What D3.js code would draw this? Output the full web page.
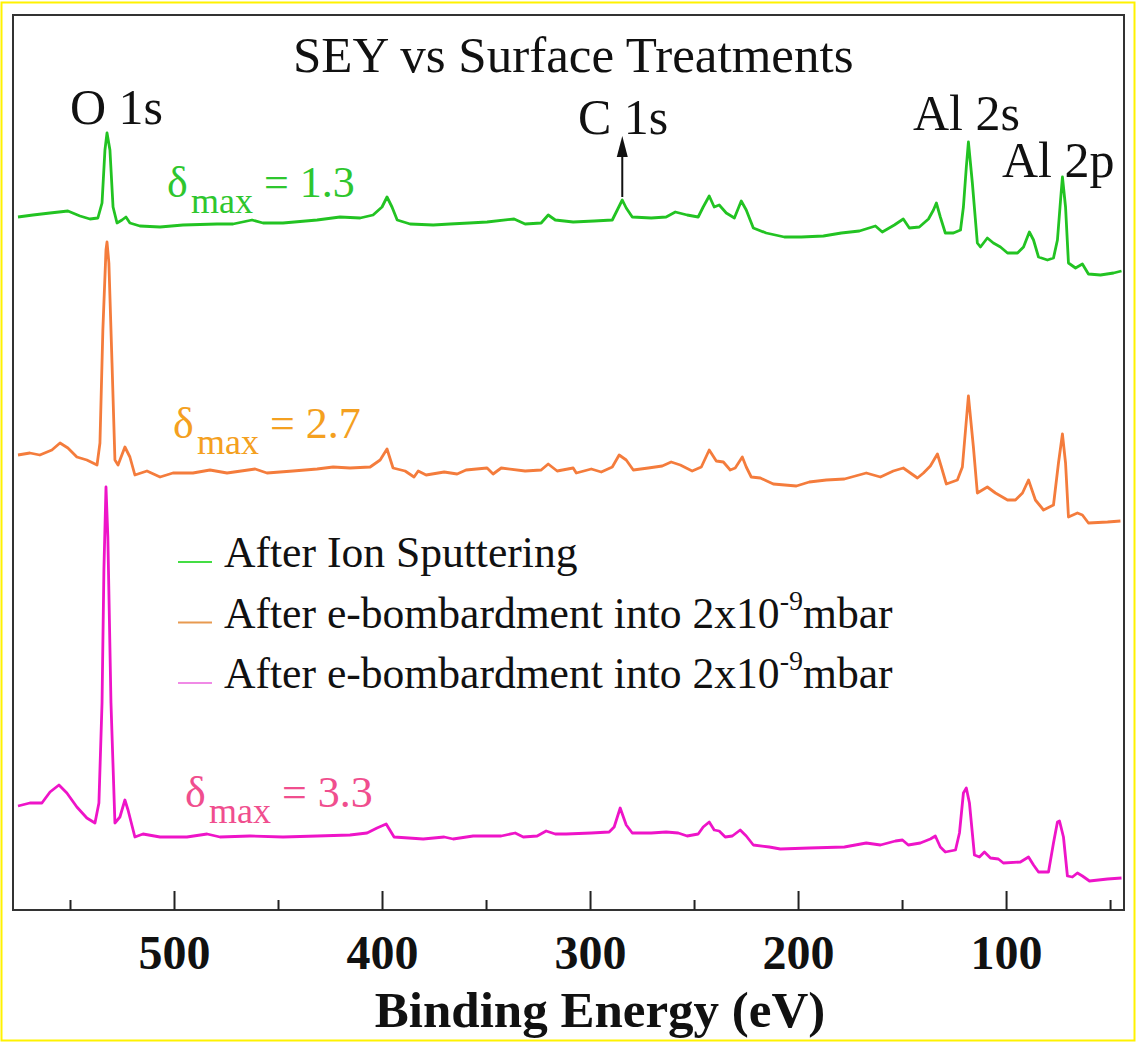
<!DOCTYPE html>
<html>
<head>
<meta charset="utf-8">
<script src="https://cdn.jsdelivr.net/npm/d3@7"></script>
<style>
  body { margin: 0; background: #fff; }
  svg { display: block; font-family: "Liberation Serif", "Times New Roman", serif; }
</style>
</head>
<body>
<div id="chart"></div>
<script>
// spectra: [binding energy (eV), intensity (a.u., stacked with offsets)]
const ionSputtering = [
  [575.0, 693], [567.8, 695], [559.6, 697], [551.0, 699], [545.2, 694], [540.4, 691], [536.6, 692],
  [534.6, 707], [533.2, 760], [532.2, 777], [530.8, 760], [529.3, 703], [527.4, 687], [525.0, 690],
  [523.1, 693], [521.2, 687], [516.4, 684], [506.7, 683], [495.7, 685], [479.3, 686], [471.6, 686],
  [462.5, 690], [457.2, 687], [447.6, 687], [431.2, 690], [420.2, 693], [410.5, 692], [404.3, 695],
  [400.0, 703], [397.6, 713], [395.2, 703], [392.7, 690], [386.5, 686], [375.4, 685], [367.3, 686],
  [358.1, 687], [349.5, 688], [336.5, 691], [331.2, 686], [323.5, 687], [320.1, 695], [316.7, 690],
  [308.1, 688], [298.0, 689], [289.3, 690], [286.9, 700], [284.5, 710], [282.6, 702], [279.7, 693],
  [270.6, 692], [263.4, 693], [259.0, 698], [253.3, 695], [248.0, 693], [245.6, 703], [242.7, 714],
  [240.3, 703], [237.9, 705], [234.5, 697], [230.6, 692], [227.3, 709], [224.9, 700], [221.5, 682],
  [215.3, 677], [206.6, 673], [198.4, 673], [187.8, 674], [179.2, 677], [170.5, 679], [162.8, 684],
  [159.5, 678], [153.7, 685], [149.4, 691], [146.5, 682], [141.7, 683], [137.3, 691], [134.9, 700],
  [133.5, 707], [131.6, 693], [129.2, 677], [125.3, 677], [121.9, 680], [120.5, 703], [119.1, 743],
  [118.1, 768], [116.2, 727], [113.8, 667], [112.3, 663], [109.0, 672], [106.1, 667], [102.7, 663],
  [99.3, 657], [94.5, 657], [91.6, 663], [88.8, 678], [86.8, 670], [84.4, 653], [80.1, 650],
  [77.2, 652], [75.3, 670], [73.8, 710], [72.9, 733], [71.4, 703], [70.0, 647], [66.6, 642],
  [63.3, 646], [60.4, 636], [54.6, 635], [48.3, 637], [44.5, 639]
];

const bombardmentA = [
  [575.0, 455], [569.3, 457], [564.5, 455], [558.7, 460], [554.8, 467], [551.0, 462], [546.7, 453],
  [541.9, 450], [537.0, 445], [535.6, 467], [534.2, 580], [532.7, 660], [532.2, 668], [531.3, 647],
  [529.8, 547], [528.4, 450], [526.9, 445], [523.6, 463], [521.2, 453], [518.8, 435], [513.0, 439],
  [506.7, 433], [500.5, 437], [490.9, 437], [482.7, 440], [474.5, 437], [461.0, 441], [455.3, 437],
  [442.8, 439], [431.2, 441], [423.5, 443], [415.4, 442], [405.7, 443], [400.9, 450], [397.6, 461],
  [394.7, 442], [388.9, 439], [384.6, 433], [382.6, 439], [378.8, 435], [370.1, 438], [363.9, 436],
  [359.6, 440], [349.5, 442], [346.6, 436], [342.7, 442], [331.2, 439], [323.5, 440], [320.1, 446],
  [315.8, 439], [308.1, 442], [306.6, 437], [299.4, 441], [294.6, 438], [289.3, 443], [286.0, 455],
  [282.6, 450], [279.2, 440], [272.0, 442], [265.3, 444], [261.0, 448], [256.6, 445], [250.9, 439],
  [246.5, 443], [242.7, 460], [239.3, 449], [235.9, 448], [232.6, 440], [230.2, 442], [226.8, 453],
  [224.9, 443], [222.5, 433], [218.1, 432], [211.9, 426], [200.8, 424], [194.6, 428], [186.4, 430],
  [177.7, 431], [167.2, 437], [160.4, 433], [154.2, 439], [149.4, 442], [142.6, 432], [139.7, 437],
  [136.4, 444], [133.0, 456], [131.1, 443], [128.7, 426], [123.4, 430], [121.0, 443], [118.1, 514],
  [115.7, 463], [113.8, 417], [109.0, 423], [105.1, 417], [99.3, 410], [95.5, 410], [92.1, 417],
  [89.2, 430], [85.9, 410], [82.0, 400], [77.2, 405], [74.8, 447], [72.9, 476], [71.4, 447],
  [70.0, 393], [65.7, 397], [63.3, 395], [60.4, 387], [51.2, 388], [45.0, 389]
];

const bombardmentB = [
  [575.0, 104], [569.3, 107], [563.5, 107], [559.6, 118], [555.3, 125], [551.5, 117], [546.7, 103],
  [541.9, 92], [538.0, 87], [536.1, 107], [534.6, 207], [533.7, 340], [532.7, 423], [531.8, 373],
  [530.3, 207], [528.4, 87], [526.0, 93], [523.6, 110], [522.1, 100], [518.8, 73], [514.9, 76],
  [506.7, 73], [493.8, 73], [484.1, 76], [477.9, 73], [463.5, 74], [447.6, 73], [431.2, 74],
  [415.4, 75], [407.2, 77], [402.4, 82], [398.0, 86], [394.2, 73], [380.2, 71], [370.1, 73],
  [365.8, 71], [356.2, 74], [342.7, 74], [336.0, 77], [332.1, 73], [325.4, 74], [321.1, 79],
  [316.7, 76], [311.5, 76], [299.4, 77], [290.8, 78], [288.4, 83], [285.5, 102], [282.6, 85],
  [279.7, 77], [270.6, 77], [263.4, 78], [257.6, 77], [253.3, 74], [248.0, 76], [245.6, 83],
  [242.7, 88], [240.3, 80], [237.9, 79], [235.0, 73], [231.6, 74], [227.8, 80], [224.9, 74],
  [221.5, 65], [213.8, 63], [208.5, 61], [194.6, 62], [177.7, 63], [167.2, 67], [160.4, 65],
  [153.2, 69], [149.8, 70], [147.0, 65], [141.2, 67], [136.4, 71], [134.0, 74], [131.6, 63],
  [129.2, 58], [124.3, 60], [122.4, 77], [120.5, 117], [119.1, 122], [117.6, 107], [115.2, 55],
  [112.8, 53], [110.4, 58], [107.5, 52], [103.7, 51], [101.3, 47], [93.1, 48], [89.2, 53],
  [86.8, 45], [84.4, 38], [79.6, 38], [77.2, 67], [75.3, 88], [74.3, 89], [72.4, 73],
  [70.5, 34], [68.1, 33], [65.7, 37], [63.3, 34], [59.9, 29], [51.2, 31], [44.5, 32]
];

const seriesData = [ionSputtering, bombardmentA, bombardmentB];
const lineColors = ["#22c322", "#f47c3c", "#ee14c8"];
const legendColors = ["#44dd44", "#e89a50", "#f08ae6"];
const deltaValues = ["1.3", "2.7", "3.3"];
const deltaColors = ["#2ec62e", "#f4a020", "#f04e8e"];

const majorTicks = [500, 400, 300, 200, 100];
const minorTicks = [550, 450, 350, 250, 150, 50];

const W = 1136, H = 1042;
const plotLeft = 13, plotTop = 15, plotRight = 1124, plotBottom = 910;

const svg = d3.select("#chart").append("svg")
  .attr("width", W)
  .attr("height", H);

svg.append("rect")
  .attr("width", W).attr("height", H)
  .attr("fill", "#fff");

// yellow outer border
svg.append("rect")
  .attr("x", 1.5).attr("y", 2.5)
  .attr("width", W - 3).attr("height", H - 4)
  .attr("fill", "none")
  .attr("stroke", "#fff200")
  .attr("stroke-width", 2);

const x = d3.scaleLinear().domain([577.4, 43.3]).range([plotLeft, plotRight]);
const y = d3.scaleLinear().domain([0, 895]).range([plotBottom, plotTop]);

// spectra
const line = d3.line()
  .x(d => x(d[0]))
  .y(d => y(d[1]));

svg.append("g")
  .selectAll("path")
  .data(seriesData)
  .join("path")
  .attr("d", line)
  .attr("fill", "none")
  .attr("stroke", (d, i) => lineColors[i])
  .attr("stroke-width", 2.8)
  .attr("stroke-linejoin", "round");

// frame
svg.append("rect")
  .attr("x", plotLeft).attr("y", plotTop)
  .attr("width", plotRight - plotLeft).attr("height", plotBottom - plotTop)
  .attr("fill", "none")
  .attr("stroke", "#333")
  .attr("stroke-width", 2);

// bottom axis, ticks pointing inside
const major = svg.append("g")
  .attr("transform", "translate(0," + plotBottom + ")")
  .call(d3.axisBottom(x).tickValues(majorTicks).tickSize(-19).tickPadding(25).tickFormat(d3.format("d")));
major.select(".domain").remove();
major.selectAll("line").attr("stroke", "#222").attr("stroke-width", 2);
major.selectAll("text")
  .attr("fill", "#111")
  .style("font-family", "'Liberation Serif', 'Times New Roman', serif")
  .style("font-size", "48px")
  .style("font-weight", "bold");

const minor = svg.append("g")
  .attr("transform", "translate(0," + plotBottom + ")")
  .call(d3.axisBottom(x).tickValues(minorTicks).tickSize(-10).tickFormat(""));
minor.select(".domain").remove();
minor.selectAll("line").attr("stroke", "#222").attr("stroke-width", 2);

svg.append("text")
  .attr("x", 600).attr("y", 1027)
  .attr("text-anchor", "middle")
  .style("font-size", "51px")
  .style("font-weight", "bold")
  .attr("fill", "#111")
  .text("Binding Energy (eV)");

// title
svg.append("text")
  .attr("x", 293).attr("y", 72)
  .style("font-size", "51px")
  .attr("fill", "#111")
  .text("SEY vs Surface Treatments");

// peak labels
const peaks = [
  { name: "O 1s", x: 70, y: 124 },
  { name: "C 1s", x: 578, y: 134 },
  { name: "Al 2s", x: 913, y: 130 },
  { name: "Al 2p", x: 1002, y: 177 }
];
svg.append("g")
  .selectAll("text")
  .data(peaks)
  .join("text")
  .attr("x", d => d.x)
  .attr("y", d => d.y)
  .style("font-size", "50px")
  .attr("fill", "#111")
  .text(d => d.name);

// arrow to C 1s
const ax = x(284.5);
svg.append("line")
  .attr("x1", ax).attr("x2", ax)
  .attr("y1", 197).attr("y2", 152)
  .attr("stroke", "#111").attr("stroke-width", 2);
svg.append("path")
  .attr("d", "M" + ax + ",136 L" + (ax - 5.5) + ",157 L" + (ax + 5.5) + ",157 Z")
  .attr("fill", "#111");

// delta max labels
const deltaPos = [[167, 197], [173, 438], [185, 807]];
deltaPos.forEach((p, i) => {
  const t = svg.append("text")
    .attr("x", p[0]).attr("y", p[1])
    .attr("fill", deltaColors[i])
    .style("font-size", "44px");
  t.append("tspan").text("δ");
  t.append("tspan").attr("x", p[0] + 24).attr("y", p[1] + 16)
    .style("font-size", "36px").text("max");
  t.append("tspan").attr("x", p[0] + 97).attr("y", p[1])
    .text("= " + deltaValues[i]);
});

// legend
const legendNames = ["After Ion Sputtering", "After e-bombardment into 2x10", "After e-bombardment into 2x10"];
const legend = svg.append("g");
legendNames.forEach((name, i) => {
  const ly = 562 + i * 60.5;
  legend.append("line")
    .attr("x1", 178).attr("x2", 212)
    .attr("y1", ly).attr("y2", ly)
    .attr("stroke", legendColors[i])
    .attr("stroke-width", 2);
  const t = legend.append("text")
    .attr("x", 224).attr("y", ly + 5)
    .attr("fill", "#111")
    .style("font-size", "43.6px");
  t.append("tspan").text(name);
  if (i > 0) {
    t.append("tspan").attr("dy", -18).style("font-size", "28px").text("-9");
    t.append("tspan").attr("dy", 18).text("mbar");
  }
});
</script>
</body>
</html>
